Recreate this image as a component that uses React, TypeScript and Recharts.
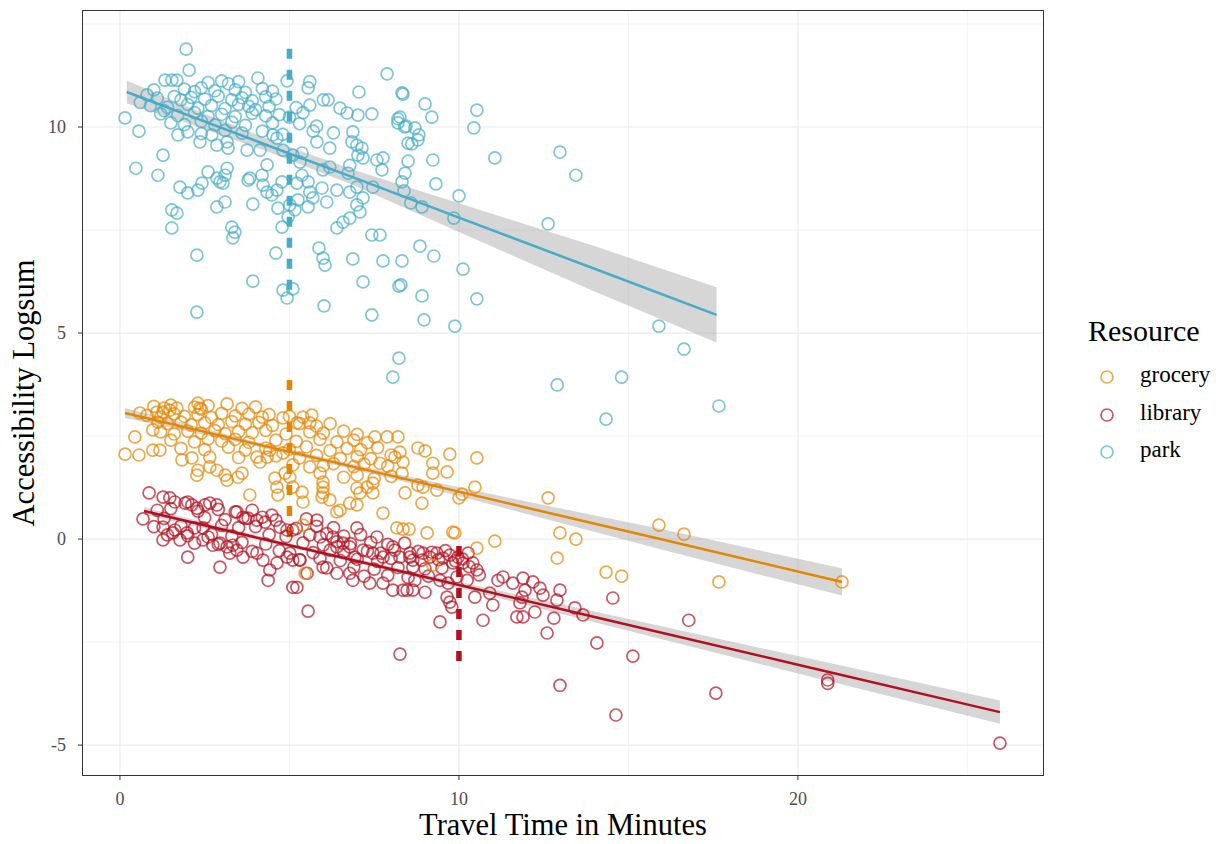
import React from 'react';
import { ComposedChart, Scatter, Line, Area, XAxis, YAxis, CartesianGrid, ReferenceLine } from 'recharts';

const FONT = "'Liberation Serif', 'DejaVu Serif', serif";

const xTicks = [0, 10, 20];
const yTicks = [-5, 0, 5, 10];
const xMinor = [5, 15, 25];
const yMinor = [-2.5, 2.5, 7.5, 12.5];

const resources = ['grocery', 'library', 'park'];
const colors: Record<string, string> = { grocery: '#E58601', library: '#B40F20', park: '#46ACC8' };

// [travel time, logsum]
const parkPts = [
  [1.95, 11.89], [0.15, 10.22], [0.56, 9.9], [0.47, 9.0], [1.12, 8.83], [1.27, 9.32], [2.04, 11.38], [1.33, 11.14], [1.53, 11.14], [1.68, 11.14],
  [4.07, 11.19], [4.93, 11.12], [5.6, 11.1], [5.55, 10.95], [7.88, 11.29], [7.05, 10.85], [8.32, 10.83], [6.0, 10.66], [6.14, 10.66], [6.49, 10.46],
  [6.7, 10.34], [7.02, 10.29], [7.43, 10.32], [8.2, 10.2], [8.2, 10.1], [8.4, 10.0], [6.87, 9.88], [5.81, 9.64], [6.19, 9.49], [6.84, 9.64],
  [6.99, 9.56], [7.14, 9.49], [7.02, 9.32], [7.17, 9.25], [7.76, 9.25], [7.58, 9.2], [8.5, 9.61], [7.73, 8.96], [8.32, 8.67], [7.46, 8.54],
  [6.73, 8.88], [6.78, 9.07], [6.4, 8.47], [6.78, 8.42], [6.99, 8.54], [7.17, 8.28], [6.99, 8.11], [7.08, 7.94], [6.78, 7.79], [6.58, 7.69],
  [6.4, 7.55], [6.1, 8.18], [5.69, 8.28], [5.55, 8.06], [5.25, 8.23], [5.16, 7.99], [5.96, 8.52], [5.6, 8.42], [5.55, 8.67], [5.37, 8.83],
  [5.22, 8.64], [5.31, 9.15], [4.78, 8.67], [4.63, 8.47], [4.48, 8.35], [4.34, 8.42], [4.22, 8.59], [4.66, 8.03], [4.96, 7.82], [5.01, 8.11],
  [4.78, 7.57], [4.34, 9.08], [4.19, 8.83], [3.83, 8.76], [3.78, 8.71], [3.92, 8.13], [3.16, 9.0], [3.1, 8.83], [2.95, 8.67], [2.86, 8.76],
  [3.04, 8.64], [2.6, 8.91], [2.42, 8.64], [2.3, 8.47], [2.0, 8.4], [1.77, 8.54], [3.1, 8.18], [2.86, 8.06], [1.53, 7.99], [1.68, 7.91],
  [1.53, 7.55], [3.19, 9.49], [3.16, 9.64], [3.75, 9.44], [4.13, 9.44], [2.36, 9.64], [2.86, 9.56], [2.71, 9.81], [1.71, 9.81], [4.51, 9.81],
  [4.63, 9.73], [4.81, 9.44], [5.1, 9.32], [5.37, 9.37], [6.19, 9.03], [5.99, 8.96],
  [3.3, 7.57], [3.39, 7.45], [3.33, 7.31], [7.43, 7.38], [7.67, 7.38], [2.27, 6.89], [4.6, 6.94], [5.87, 7.06], [5.99, 6.82], [6.05, 6.65],
  [6.87, 6.8], [7.76, 6.75], [8.32, 6.75], [3.92, 6.26], [4.81, 6.04], [5.1, 6.07], [4.93, 5.85], [7.17, 6.24], [8.23, 6.14], [2.27, 5.51],
  [6.02, 5.66], [7.43, 5.44], [8.23, 4.39], [8.05, 3.93],
  [8.35, 10.8], [9.0, 10.56], [9.2, 10.24], [8.26, 10.24], [8.44, 10.02], [8.7, 9.98], [8.82, 9.81], [8.79, 9.69], [8.61, 9.59], [10.53, 10.41],
  [10.44, 9.98], [8.5, 9.17], [9.23, 9.2], [8.41, 8.88], [8.38, 8.45], [9.32, 8.62], [8.58, 8.16], [8.91, 8.06], [10.0, 8.33], [11.06, 9.25],
  [12.98, 9.39], [13.45, 8.83], [9.85, 7.79], [12.63, 7.65],
  [8.85, 7.11], [9.26, 6.87], [8.29, 6.17], [10.12, 6.55], [8.91, 5.9], [10.53, 5.83], [8.97, 5.32], [9.88, 5.17], [15.9, 5.17], [16.64, 4.61],
  [12.9, 3.74], [14.8, 3.93], [17.67, 3.23], [14.34, 2.91],
  [2.6, 11.08], [3.0, 11.12], [3.2, 11.05], [3.5, 11.1],
  [1.9, 10.92], [2.2, 10.86], [2.4, 10.95], [2.8, 10.88], [3.4, 10.9], [3.7, 10.84], [4.2, 10.93], [4.5, 10.87],
  [1.1, 10.7], [1.6, 10.74], [1.8, 10.66], [2.1, 10.72], [2.5, 10.68], [2.9, 10.75], [3.3, 10.66], [3.6, 10.71], [3.9, 10.64], [4.3, 10.73], [4.6, 10.68],
  [0.9, 10.52], [1.4, 10.48], [2.0, 10.55], [2.3, 10.46], [2.7, 10.52], [3.1, 10.45], [3.5, 10.55], [3.8, 10.5], [4.0, 10.42], [4.4, 10.5], [5.2, 10.47], [5.6, 10.53],
  [1.2, 10.32], [1.7, 10.28], [2.2, 10.35], [2.6, 10.26], [3.0, 10.31], [3.4, 10.25], [3.9, 10.33], [4.3, 10.27], [4.7, 10.3], [5.0, 10.24], [5.4, 10.35],
  [1.5, 10.1], [1.9, 10.06], [2.4, 10.14], [2.8, 10.05], [3.3, 10.12], [3.7, 10.04], [4.5, 10.1], [5.3, 10.08], [5.8, 10.02],
  [2.0, 9.88], [2.4, 9.84], [3.1, 9.92], [3.6, 9.85], [4.2, 9.9], [4.8, 9.82], [5.7, 9.9], [6.3, 9.86],
  [0.8, 10.78], [0.6, 10.6], [1.0, 10.9], [1.3, 10.4],
];

const groceryPts = [
  [0.15, 2.06], [0.56, 2.04], [0.44, 2.48], [0.59, 3.06], [0.97, 2.16], [1.18, 2.16], [0.97, 2.65], [1.12, 2.84], [3.16, 3.28], [2.3, 3.3],
  [2.36, 3.18], [1.68, 3.18], [1.47, 3.13], [1.27, 3.08], [1.09, 3.08], [1.83, 1.92], [2.12, 1.97], [2.3, 1.67], [2.27, 1.55], [2.65, 1.99],
  [2.65, 1.75], [2.86, 1.67], [3.16, 1.43], [3.1, 1.55], [3.48, 1.5], [3.6, 1.6], [3.83, 1.07], [4.04, 1.99], [4.13, 1.87], [4.34, 1.99],
  [4.42, 2.16], [4.81, 2.09], [4.57, 1.48], [4.63, 1.26], [4.66, 1.07], [4.87, 1.6], [5.01, 1.5], [5.1, 1.26], [5.37, 1.14], [5.4, 0.9],
  [5.6, 1.75], [5.9, 1.6], [5.99, 1.38], [5.99, 1.26], [5.99, 1.12], [5.96, 1.02], [6.19, 0.95], [6.49, 0.7], [6.78, 0.87], [6.99, 0.83],
  [6.99, 1.24], [7.29, 1.26], [7.46, 1.36], [7.67, 1.84], [7.88, 2.48], [7.52, 2.48], [8.2, 2.48], [8.11, 1.99], [8.26, 2.11], [8.35, 1.87],
  [8.32, 1.6], [7.76, 0.63], [5.4, 2.96], [5.66, 3.01], [5.6, 2.82], [5.22, 2.82], [4.81, 2.94],
  [8.79, 2.21], [9.0, 2.14], [9.73, 2.06], [10.53, 1.97], [9.65, 1.63], [9.23, 1.84], [9.23, 1.6], [10.47, 1.26], [10.09, 1.09], [10.0, 1.0],
  [8.91, 0.87], [8.41, 1.12], [9.35, 1.19], [8.94, 1.26], [8.79, 1.31], [12.63, 1.0], [9.06, 0.15], [8.35, 0.24], [8.53, 0.24], [9.82, 0.17],
  [9.88, 0.15], [10.53, -0.22], [11.06, -0.05], [12.98, 0.15], [13.45, 0.0], [12.9, -0.46], [15.9, 0.34], [16.64, 0.12], [14.34, -0.8], [14.8, -0.9],
  [17.67, -1.04], [21.3, -1.04], [9.23, -0.63], [5.46, -0.83], [5.4, 0.34], [8.17, 0.27], [6.4, 0.66], [7.08, 1.12], [7.46, 1.12],
  [1.0, 3.22], [1.3, 3.18], [1.5, 3.25], [2.2, 3.2], [2.4, 3.15], [2.6, 3.24], [3.6, 3.17], [4.0, 3.21],
  [0.8, 3.0], [1.2, 2.96], [1.6, 3.04], [1.9, 2.98], [2.3, 3.02], [2.7, 2.95], [3.0, 3.05], [3.4, 2.99], [3.8, 3.03], [4.2, 2.96], [4.4, 3.02], [5.0, 2.98],
  [1.4, 2.8], [1.8, 2.84], [2.1, 2.77], [2.5, 2.82], [2.9, 2.78], [3.3, 2.85], [3.7, 2.79], [4.1, 2.83], [4.5, 2.76], [5.3, 2.8], [5.8, 2.74], [6.2, 2.8],
  [1.2, 2.6], [1.6, 2.55], [2.0, 2.62], [2.4, 2.57], [2.8, 2.63], [3.1, 2.56], [3.5, 2.61], [3.9, 2.58], [4.3, 2.64], [4.9, 2.55], [5.6, 2.6], [6.0, 2.57], [6.6, 2.62], [7.0, 2.54],
  [1.5, 2.4], [2.2, 2.36], [2.6, 2.43], [3.0, 2.38], [3.4, 2.42], [3.8, 2.35], [4.6, 2.4], [5.2, 2.37], [5.9, 2.42], [6.4, 2.36], [6.9, 2.4], [7.3, 2.34],
  [1.8, 2.2], [2.5, 2.17], [3.2, 2.23], [3.7, 2.16], [4.3, 2.21], [5.0, 2.18], [5.5, 2.24], [6.2, 2.15], [6.7, 2.2], [7.1, 2.17], [7.6, 2.22],
  [3.5, 1.98], [4.6, 2.02], [5.3, 1.97], [5.8, 2.03], [6.5, 1.96], [7.0, 2.0], [7.4, 1.95], [8.0, 2.04],
  [5.1, 1.8], [6.0, 1.78], [6.3, 1.83], [6.9, 1.76], [7.2, 1.82], [7.9, 1.77],
  [6.6, 1.5], [7.0, 1.55], [7.5, 1.47], [8.0, 1.52],
];

const libraryPts = [
  [0.86, 1.12], [0.68, 0.49], [1.27, 1.02], [1.47, 1.0], [1.62, 0.9], [1.92, 0.87], [2.12, 0.83], [2.0, 0.9], [2.27, 0.75], [2.51, 0.83],
  [2.65, 0.87], [2.86, 0.83], [1.27, 0.29], [1.27, -0.02], [1.56, 0.15], [1.77, -0.02], [1.98, 0.15], [1.62, 0.22], [2.0, -0.44], [2.45, 0.27],
  [2.6, 0.05], [2.45, -0.02], [2.74, -0.15], [2.95, -0.1], [3.16, -0.19], [3.33, -0.15], [3.45, -0.27], [3.63, -0.44], [3.24, -0.34], [2.95, -0.68],
  [3.45, 0.66], [3.63, 0.53], [3.78, 0.51], [4.04, 0.46], [4.28, 0.41], [4.48, 0.58], [4.72, 0.29], [4.93, 0.22], [5.1, 0.22], [4.04, -0.34],
  [4.22, -0.51], [4.42, -0.75], [4.37, -1.0], [4.63, -0.58], [4.93, -0.44], [5.1, -0.51], [5.22, -1.17], [5.01, -0.34],
  [5.81, 0.46], [5.9, 0.05], [6.28, 0.05], [6.4, -0.19], [6.58, -0.1], [6.78, -0.19], [6.99, 0.27], [6.93, -0.44], [7.17, -0.27], [7.46, -0.34],
  [7.58, 0.05], [7.76, -0.44], [8.05, -0.19], [8.26, -0.44], [8.55, -0.44], [8.64, -0.68], [8.7, -1.0], [8.47, -1.24], [8.05, -1.24], [7.76, -1.07],
  [7.37, -1.07], [6.87, -1.0], [6.78, -0.83], [6.4, -0.83], [5.99, -0.68], [5.52, -0.83], [5.31, -0.51], [5.1, -1.17], [5.55, -1.75],
  [8.55, -0.34], [8.64, -0.51], [8.94, -0.34], [9.14, -0.44], [9.35, -0.34], [9.53, -0.46], [9.73, -0.39], [9.82, -0.58], [9.97, -0.44], [10.12, -0.58],
  [10.27, -0.34], [10.41, -0.58], [10.53, -0.75], [8.35, -1.24], [8.64, -1.24], [9.0, -1.29], [9.44, -1.0], [9.68, -1.07], [9.94, -0.92], [10.24, -1.0],
  [9.65, -1.41], [9.73, -1.53], [9.79, -1.65], [9.44, -2.01], [10.47, -1.41], [10.91, -1.31], [11.0, -1.6], [11.15, -1.0], [10.71, -1.97], [11.59, -1.07],
  [11.89, -0.95], [12.18, -1.04], [11.95, -1.24], [11.86, -1.41], [11.8, -1.55], [12.39, -1.19], [12.48, -1.36], [12.98, -1.24], [12.89, -1.48], [12.24, -1.77],
  [11.89, -1.89], [11.71, -1.89], [12.8, -1.92], [12.6, -2.28], [13.42, -1.67], [13.66, -1.84], [14.07, -2.52], [14.54, -1.43], [15.13, -2.84], [16.78, -1.97],
  [8.26, -2.79], [12.98, -3.55], [17.58, -3.74], [20.88, -3.42], [20.88, -3.5], [25.96, -4.95], [14.63, -4.27],
  [1.1, 0.7], [1.5, 0.74], [2.3, 0.68], [2.9, 0.72], [3.4, 0.66], [3.9, 0.7],
  [1.3, 0.5], [2.5, 0.52], [3.1, 0.47], [3.7, 0.5], [4.2, 0.53], [4.6, 0.46], [5.5, 0.49],
  [1.0, 0.3], [1.8, 0.32], [2.2, 0.27], [3.0, 0.33], [3.5, 0.28], [4.0, 0.3], [5.2, 0.26], [5.8, 0.31], [6.3, 0.28],
  [1.4, 0.1], [2.0, 0.08], [2.7, 0.12], [3.3, 0.07], [4.4, 0.11], [4.9, 0.06], [5.6, 0.1], [6.1, 0.13], [6.6, 0.07], [7.1, 0.11],
  [2.2, -0.1], [2.9, -0.13], [3.6, -0.08], [4.3, -0.12], [5.4, -0.09], [6.0, -0.14], [6.4, -0.06], [6.8, -0.11], [7.4, -0.08], [7.9, -0.13], [8.4, -0.1],
  [3.9, -0.3], [4.7, -0.28], [5.7, -0.33], [6.2, -0.27], [6.6, -0.31], [7.3, -0.29], [7.7, -0.34], [8.1, -0.27], [8.8, -0.3], [9.2, -0.32], [9.6, -0.28],
  [5.3, -0.5], [5.9, -0.47], [6.5, -0.52], [7.0, -0.49], [7.6, -0.54], [8.0, -0.47], [8.9, -0.51], [9.4, -0.5], [9.9, -0.53], [10.1, -0.48],
  [6.1, -0.7], [6.9, -0.68], [7.5, -0.73], [8.2, -0.69], [9.0, -0.72], [9.5, -0.7], [10.3, -0.67],
  [7.2, -0.9], [7.9, -0.88], [8.5, -0.93], [9.1, -0.9], [10.6, -0.87], [11.3, -0.92],
];

// fitted line + confidence band: [x, fit, lower, upper]
const parkFit = [
  [0.2, 10.85, 10.57, 11.13], [2, 10.29, 10.09, 10.49], [4.5, 9.51, 9.36, 9.66], [7, 8.74, 8.55, 8.93],
  [10, 7.8, 7.45, 8.15], [14, 6.56, 6.01, 7.11], [17.6, 5.44, 4.77, 6.11],
];
const groceryFit = [
  [0.15, 3.06, 2.94, 3.18], [4, 2.31, 2.26, 2.36], [8, 1.54, 1.47, 1.61], [12, 0.76, 0.61, 0.91],
  [16, -0.01, -0.26, 0.24], [21.3, -1.04, -1.37, -0.71],
];
const libraryFit = [
  [0.71, 0.68, 0.59, 0.77], [5, -0.15, -0.2, -0.1], [9, -0.92, -0.98, -0.86], [14, -1.89, -2.02, -1.76],
  [20, -3.05, -3.26, -2.84], [25.96, -4.2, -4.48, -3.92],
];

// dashed marker segments: [x, yTop, yBottom]
const parkMark = [5, 11.9, 6.0];
const groceryMark = [5, 3.86, 0.0];
const libraryMark = [10, -0.17, -3.0];

const toPts = (arr: number[][]) => arr.map(([x, y]) => ({ x, y }));
const toFit = (arr: number[][]) => arr.map(([x, fit, lo, hi]) => ({ x, fit, band: [lo, hi] }));

const ring = (color: string) => (props: any) => (
  <circle cx={props.cx} cy={props.cy} r={6} fill="none" stroke={color} strokeOpacity={0.7} strokeWidth={1.7} />
);

const XTitle = ({ viewBox }: any) => (
  <text x={viewBox.x + viewBox.width / 2} y={835} textAnchor="middle" fontFamily={FONT} fontSize={30.5} fill="#000">
    Travel Time in Minutes
  </text>
);

const YTitle = ({ viewBox }: any) => {
  const cx = 24;
  const cy = viewBox.y + viewBox.height / 2;
  return (
    <text x={cx} y={cy} transform={`rotate(-90, ${cx}, ${cy})`} textAnchor="middle" dominantBaseline="central"
      fontFamily={FONT} fontSize={30.5} fill="#000">
      Accessibility Logsum
    </text>
  );
};

const marks: Record<string, number[]> = { park: parkMark, grocery: groceryMark, library: libraryMark };
const fits: Record<string, number[][]> = { park: parkFit, grocery: groceryFit, library: libraryFit };
const pts: Record<string, number[][]> = { park: parkPts, grocery: groceryPts, library: libraryPts };

export default function App() {
  const drawOrder = ['library', 'grocery', 'park'];
  return (
    <div style={{ position: 'absolute', left: 0, top: 0, width: 1226, height: 844, background: '#fff', fontFamily: FONT }}>
      <ComposedChart width={1226} height={844} margin={{ top: 10, right: 182, bottom: 0, left: 0 }}>
        <CartesianGrid horizontalValues={yMinor} verticalValues={xMinor} stroke="#EBEBEB" strokeWidth={0.6} />
        <CartesianGrid horizontalValues={yTicks} verticalValues={xTicks} stroke="#EBEBEB" strokeWidth={1.2} />
        <XAxis
          type="number"
          dataKey="x"
          domain={[-1.12, 27.26]}
          ticks={xTicks}
          allowDataOverflow
          axisLine={false}
          tickLine={{ stroke: '#333333' }}
          tickSize={4}
          tickMargin={12}
          height={68}
          tick={{ fill: '#4D4D4D', fontSize: 18, fontFamily: FONT }}
          label={<XTitle />}
        />
        <YAxis
          type="number"
          dataKey="y"
          domain={[-5.75, 12.84]}
          ticks={yTicks}
          allowDataOverflow
          axisLine={false}
          tickLine={{ stroke: '#333333' }}
          tickSize={4}
          tickMargin={12}
          width={82}
          tick={{ fill: '#4D4D4D', fontSize: 18, fontFamily: FONT }}
          label={<YTitle />}
        />
        {drawOrder.map((r) => (
          <Scatter key={`s-${r}`} data={toPts(pts[r])} shape={ring(colors[r])} isAnimationActive={false} />
        ))}
        {drawOrder.map((r) => (
          <Area key={`a-${r}`} data={toFit(fits[r])} dataKey="band" type="linear" fill="#999999" fillOpacity={0.4}
            stroke="none" isAnimationActive={false} />
        ))}
        {drawOrder.map((r) => (
          <Line key={`l-${r}`} data={toFit(fits[r])} dataKey="fit" type="linear" stroke={colors[r]} strokeWidth={2.5}
            dot={false} activeDot={false} isAnimationActive={false} />
        ))}
        {drawOrder.map((r) => (
          <ReferenceLine key={`m-${r}`} segment={[{ x: marks[r][0], y: marks[r][1] }, { x: marks[r][0], y: marks[r][2] }]}
            stroke={colors[r]} strokeWidth={5.5} strokeDasharray="10 11" ifOverflow="visible" />
        ))}
      </ComposedChart>
      <div style={{ position: 'absolute', left: 82, top: 10, width: 962, height: 766, border: '1px solid #333333', boxSizing: 'border-box', pointerEvents: 'none' }} />
      <div style={{ position: 'absolute', left: 1088, top: 314, fontSize: 30, lineHeight: '34px', color: '#000' }}>Resource</div>
      {resources.map((r, i) => (
        <div key={r} style={{ position: 'absolute', left: 1096, top: 362 + i * 37.5, height: 26, display: 'flex', alignItems: 'center' }}>
          <svg width={22} height={26}>
            <circle cx={11} cy={15} r={6} fill="none" stroke={colors[r]} strokeOpacity={0.7} strokeWidth={1.7} />
          </svg>
          <span style={{ marginLeft: 22, fontSize: 23, lineHeight: '26px', color: '#000' }}>{r}</span>
        </div>
      ))}
    </div>
  );
}
